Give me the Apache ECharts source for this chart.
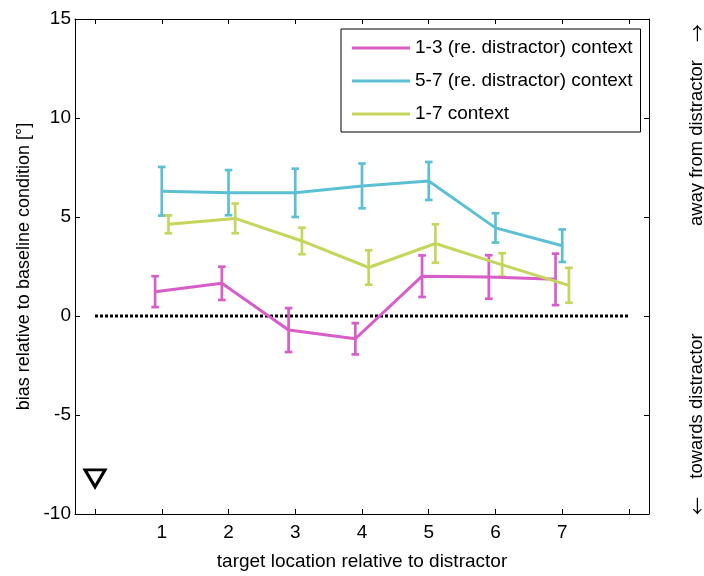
<!DOCTYPE html>
<html>
<head>
<meta charset="utf-8">
<script src="https://cdn.jsdelivr.net/npm/echarts@6/dist/echarts.min.js"></script>
<style>
  html, body { margin: 0; padding: 0; background: #fff; }
  #chart { width: 704px; height: 576px; }
</style>
</head>
<body>
<div id="chart"></div>
<script>
// Target locations (relative to the distractor)
const locations = [1, 2, 3, 4, 5, 6, 7];

// Legend / series names
const seriesNames = [
  '1-3 (re. distractor) context',
  '5-7 (re. distractor) context',
  '1-7 context'
];

// Mean bias (deg) and error half-widths per context
const mean13 = [1.23, 1.65, -0.71, -1.15, 2.01, 1.97, 1.85];
const err13  = [0.78, 0.84, 1.11, 0.79, 1.05, 1.10, 1.30];
const mean57 = [6.30, 6.23, 6.22, 6.57, 6.82, 4.45, 3.55];
const err57  = [1.23, 1.14, 1.22, 1.13, 0.96, 0.74, 0.82];
const mean17 = [4.63, 4.93, 3.79, 2.45, 3.66, 2.58, 1.55];
const err17  = [0.45, 0.75, 0.67, 0.87, 0.97, 0.59, 0.88];

// Axis ticks and labels
const xTickValues = [0, 1, 2, 3, 4, 5, 6, 7, 8];
const xLabelValues = [1, 2, 3, 4, 5, 6, 7];
const yMin = -10, yMax = 15, yStep = 5;

// Zero-bias reference line and the baseline marker
const zeroLineX = [0, 8];
const baselineMarker = [0, -8.2];

const colors = ['#d95dc8', '#5cc0d5', '#c6d65c'];
const offsets = [-0.1, 0, 0.1];
const FONT = 'Liberation Sans, Arial, sans-serif';
const FS = 19;

function lineSeries(idx, means) {
  return {
    type: 'line',
    name: seriesNames[idx],
    data: locations.map((x, i) => [x + offsets[idx], means[i]]),
    symbol: 'none',
    lineStyle: { color: colors[idx], width: 3 },
    itemStyle: { color: colors[idx] },
    z: 3
  };
}

function errorSeries(idx, means, errs) {
  const color = colors[idx];
  return {
    type: 'custom',
    name: seriesNames[idx],
    data: locations.map((x, i) => [x + offsets[idx], means[i] - errs[i], means[i] + errs[i]]),
    encode: { x: 0, y: [1, 2] },
    itemStyle: { color: color },
    z: 3,
    renderItem: function (params, api) {
      const x = api.value(0);
      const lo = api.coord([x, api.value(1)]);
      const hi = api.coord([x, api.value(2)]);
      const cap = 3.8;
      const style = { stroke: color, lineWidth: 2.7, fill: null };
      return {
        type: 'group',
        children: [
          { type: 'line', shape: { x1: lo[0], y1: lo[1], x2: hi[0], y2: hi[1] }, style: style },
          { type: 'line', shape: { x1: lo[0] - cap, y1: lo[1], x2: lo[0] + cap, y2: lo[1] }, style: style },
          { type: 'line', shape: { x1: hi[0] - cap, y1: hi[1], x2: hi[0] + cap, y2: hi[1] }, style: style }
        ]
      };
    }
  };
}

const axisLineStyle = { onZero: false, lineStyle: { color: '#000', width: 1 } };
const tickStyle = { inside: true, length: 5, lineStyle: { color: '#000', width: 1 } };

const chart = echarts.init(document.getElementById('chart'), null, { renderer: 'canvas' });

const sideFont = FS * 0.97 + 'px ' + FONT;
const arrowFont = '18px "Noto Sans CJK SC", "DejaVu Sans", sans-serif';

chart.setOption({
  backgroundColor: '#fff',
  animation: false,
  grid: { left: 75, right: 55, top: 19, bottom: 62 },
  legend: {
    data: seriesNames,
    orient: 'vertical',
    left: 341,
    top: 29,
    icon: 'rect',
    itemWidth: 58,
    itemHeight: 3,
    itemGap: 13,
    padding: [9, 8, 8, 11],
    borderColor: '#000',
    borderWidth: 1,
    borderRadius: 0,
    backgroundColor: '#fff',
    textStyle: { fontFamily: FONT, fontSize: FS, color: '#000', lineHeight: 20 }
  },
  xAxis: [
    {
      type: 'value',
      min: -0.3,
      max: 8.3,
      position: 'bottom',
      name: 'target location relative to distractor',
      nameLocation: 'middle',
      nameGap: 38,
      nameTextStyle: { fontFamily: FONT, fontSize: FS, color: '#000' },
      axisLine: axisLineStyle,
      axisTick: Object.assign({ customValues: xTickValues }, tickStyle),
      axisLabel: { customValues: xLabelValues, fontFamily: FONT, fontSize: FS, color: '#000', margin: 9 },
      splitLine: { show: false }
    },
    {
      type: 'value',
      min: -0.3,
      max: 8.3,
      position: 'top',
      axisLine: axisLineStyle,
      axisTick: Object.assign({ customValues: xTickValues }, tickStyle),
      axisLabel: { show: false },
      splitLine: { show: false }
    }
  ],
  yAxis: [
    {
      type: 'value',
      min: yMin,
      max: yMax,
      interval: yStep,
      position: 'left',
      name: 'bias relative to baseline condition [°]',
      nameLocation: 'middle',
      nameGap: 39,
      nameTextStyle: { fontFamily: FONT, fontSize: 18, color: '#000' },
      axisLine: axisLineStyle,
      axisTick: tickStyle,
      axisLabel: { fontFamily: FONT, fontSize: FS, color: '#000', margin: 4 },
      splitLine: { show: false }
    },
    {
      type: 'value',
      min: yMin,
      max: yMax,
      interval: yStep,
      position: 'right',
      axisLine: axisLineStyle,
      axisTick: tickStyle,
      axisLabel: { show: false },
      splitLine: { show: false }
    }
  ],
  series: [
    {
      type: 'line',
      name: 'zero',
      data: zeroLineX.map(x => [x, 0]),
      symbol: 'none',
      lineStyle: { color: '#000', width: 3, type: [3, 2], cap: 'butt' },
      z: 2
    },
    lineSeries(0, mean13),
    errorSeries(0, mean13, err13),
    lineSeries(1, mean57),
    errorSeries(1, mean57, err57),
    lineSeries(2, mean17),
    errorSeries(2, mean17, err17),
    {
      type: 'scatter',
      name: 'baseline',
      data: [baselineMarker],
      symbol: 'triangle',
      symbolRotate: 180,
      symbolSize: [20, 17],
      itemStyle: { color: 'rgba(0,0,0,0)', borderColor: '#000', borderWidth: 3, opacity: 1 },
      z: 4
    }
  ],
  graphic: [
    {
      type: 'text', x: 697, y: 143, rotation: Math.PI / 2,
      style: { text: 'away from distractor', font: sideFont, fill: '#000', align: 'center', verticalAlign: 'middle' }
    },
    {
      type: 'text', x: 697, y: 33, rotation: Math.PI / 2,
      style: { text: '→', font: arrowFont, fill: '#000', align: 'center', verticalAlign: 'middle' }
    },
    {
      type: 'text', x: 697, y: 406, rotation: Math.PI / 2,
      style: { text: 'towards distractor', font: sideFont, fill: '#000', align: 'center', verticalAlign: 'middle' }
    },
    {
      type: 'text', x: 697, y: 506, rotation: Math.PI / 2,
      style: { text: '←', font: arrowFont, fill: '#000', align: 'center', verticalAlign: 'middle' }
    }
  ]
});
</script>
</body>
</html>
